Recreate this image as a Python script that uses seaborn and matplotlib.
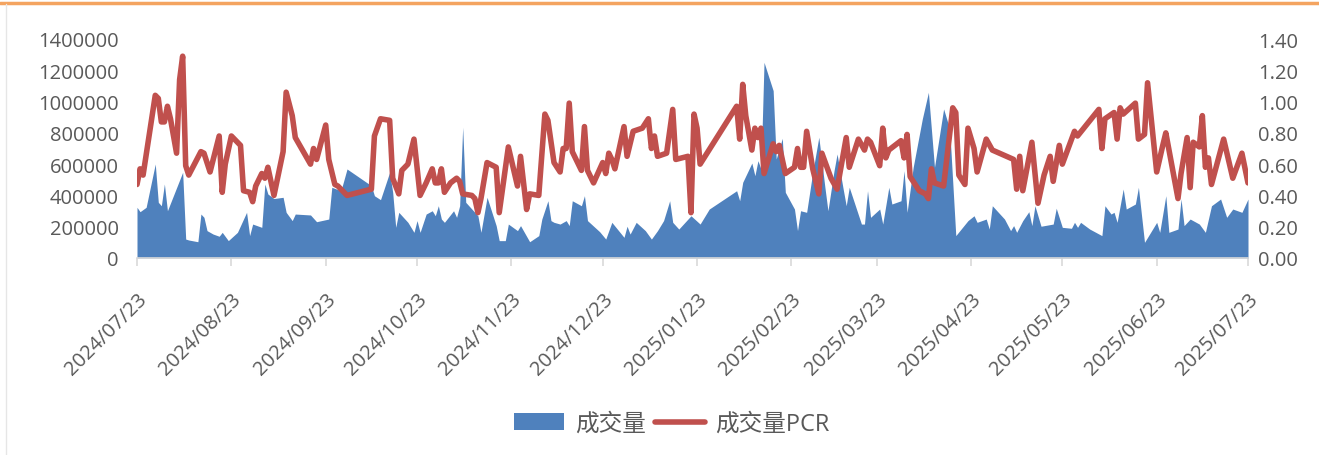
import pandas as pd
import matplotlib.pyplot as plt
import matplotlib.dates as mdates
from matplotlib.ticker import StrMethodFormatter
from matplotlib.patches import Patch
from matplotlib.lines import Line2D
import seaborn as sns

# 成交量 (area, left axis)
vol_dates = [
    "2024-07-23", "2024-07-24", "2024-07-26", "2024-07-29", "2024-07-30", "2024-07-31", "2024-08-01",
    "2024-08-02", "2024-08-07", "2024-08-08", "2024-08-09", "2024-08-12", "2024-08-13", "2024-08-14",
    "2024-08-15", "2024-08-17", "2024-08-19", "2024-08-20", "2024-08-22", "2024-08-25", "2024-08-28",
    "2024-08-29", "2024-08-30", "2024-09-02", "2024-09-03", "2024-09-04", "2024-09-06", "2024-09-09",
    "2024-09-10", "2024-09-12", "2024-09-13", "2024-09-18", "2024-09-20", "2024-09-24", "2024-09-25",
    "2024-09-28", "2024-09-30", "2024-10-08", "2024-10-09", "2024-10-11", "2024-10-14", "2024-10-15",
    "2024-10-16", "2024-10-17", "2024-10-20", "2024-10-22", "2024-10-23", "2024-10-24", "2024-10-26",
    "2024-10-28", "2024-10-29", "2024-10-30", "2024-10-31", "2024-11-01", "2024-11-04", "2024-11-05",
    "2024-11-06", "2024-11-07", "2024-11-08", "2024-11-10", "2024-11-12", "2024-11-13", "2024-11-15",
    "2024-11-18", "2024-11-19", "2024-11-21", "2024-11-22", "2024-11-25", "2024-11-26", "2024-11-29",
    "2024-12-02", "2024-12-03", "2024-12-05", "2024-12-06", "2024-12-07", "2024-12-09", "2024-12-11",
    "2024-12-12", "2024-12-13", "2024-12-16", "2024-12-17", "2024-12-18", "2024-12-22", "2024-12-24",
    "2024-12-26", "2024-12-30", "2024-12-31", "2025-01-01", "2025-01-03", "2025-01-06", "2025-01-08",
    "2025-01-10", "2025-01-12", "2025-01-14", "2025-01-15", "2025-01-17", "2025-01-21", "2025-01-24",
    "2025-01-27", "2025-02-05", "2025-02-06", "2025-02-07", "2025-02-10", "2025-02-11", "2025-02-12",
    "2025-02-13", "2025-02-14", "2025-02-17", "2025-02-18", "2025-02-20", "2025-02-21", "2025-02-24",
    "2025-02-25", "2025-02-26", "2025-02-28", "2025-03-02", "2025-03-04", "2025-03-06", "2025-03-07",
    "2025-03-09", "2025-03-10", "2025-03-12", "2025-03-13", "2025-03-14", "2025-03-18", "2025-03-19",
    "2025-03-20", "2025-03-21", "2025-03-24", "2025-03-25", "2025-03-27", "2025-03-28", "2025-03-31",
    "2025-04-01", "2025-04-02", "2025-04-04", "2025-04-07", "2025-04-09", "2025-04-11", "2025-04-14",
    "2025-04-16", "2025-04-18", "2025-04-22", "2025-04-24", "2025-04-25", "2025-04-28", "2025-04-29",
    "2025-04-30", "2025-05-04", "2025-05-06", "2025-05-07", "2025-05-08", "2025-05-10", "2025-05-12",
    "2025-05-13", "2025-05-14", "2025-05-16", "2025-05-20", "2025-05-21", "2025-05-23", "2025-05-26",
    "2025-05-27", "2025-05-28", "2025-05-29", "2025-06-01", "2025-06-05", "2025-06-06", "2025-06-08",
    "2025-06-09", "2025-06-10", "2025-06-12", "2025-06-13", "2025-06-16", "2025-06-17", "2025-06-19",
    "2025-06-21", "2025-06-23", "2025-06-24", "2025-06-26", "2025-06-27", "2025-06-30", "2025-07-01",
    "2025-07-02", "2025-07-04", "2025-07-07", "2025-07-09", "2025-07-11", "2025-07-14", "2025-07-16",
    "2025-07-18", "2025-07-21", "2025-07-23",
]
volume = [
    324000, 296000, 324000, 601000, 356000, 334000, 473000,
    302000, 548000, 121000, 115000, 104000, 281000, 260000,
    175000, 153000, 139000, 164000, 111000, 164000, 292000,
    143000, 217000, 196000, 473000, 409000, 380000, 388000,
    292000, 239000, 281000, 275000, 232000, 249000, 452000,
    430000, 569000, 462000, 398000, 373000, 548000, 420000,
    196000, 292000, 228000, 164000, 239000, 164000, 281000,
    302000, 270000, 334000, 249000, 228000, 302000, 260000,
    334000, 836000, 356000, 313000, 270000, 164000, 388000,
    207000, 111000, 111000, 217000, 175000, 207000, 104000,
    143000, 249000, 366000, 239000, 228000, 217000, 239000,
    207000, 366000, 334000, 398000, 239000, 168000, 121000,
    228000, 132000, 203000, 153000, 228000, 175000, 121000,
    175000, 239000, 366000, 228000, 185000, 270000, 217000,
    313000, 430000, 366000, 484000, 607000, 526000, 622000,
    569000, 1251000, 1070000, 633000, 765000, 420000, 313000,
    175000, 302000, 292000, 548000, 772000, 452000, 302000,
    558000, 665000, 441000, 334000, 452000, 217000, 217000,
    430000, 260000, 313000, 217000, 452000, 345000, 366000,
    558000, 292000, 580000, 889000, 1059000, 580000, 953000,
    825000, 143000, 239000, 270000, 228000, 249000, 185000,
    334000, 249000, 175000, 207000, 164000, 239000, 296000,
    207000, 334000, 203000, 217000, 318000, 196000, 190000,
    228000, 196000, 228000, 185000, 143000, 334000, 281000,
    292000, 228000, 441000, 313000, 345000, 452000, 100000,
    164000, 228000, 164000, 398000, 164000, 185000, 377000,
    207000, 249000, 217000, 164000, 334000, 377000, 260000,
    313000, 292000, 377000,
]

# 成交量PCR (line, right axis)
pcr_dates = [
    "2024-07-23", "2024-07-24", "2024-07-25", "2024-07-29", "2024-07-30", "2024-07-31", "2024-08-01",
    "2024-08-02", "2024-08-03", "2024-08-05", "2024-08-06", "2024-08-07", "2024-08-08", "2024-08-09",
    "2024-08-13", "2024-08-14", "2024-08-16", "2024-08-19", "2024-08-20", "2024-08-21", "2024-08-23",
    "2024-08-26", "2024-08-27", "2024-08-29", "2024-08-30", "2024-08-31", "2024-09-02", "2024-09-03",
    "2024-09-04", "2024-09-06", "2024-09-09", "2024-09-10", "2024-09-12", "2024-09-13", "2024-09-18",
    "2024-09-19", "2024-09-20", "2024-09-23", "2024-09-24", "2024-09-26", "2024-09-27", "2024-09-30",
    "2024-10-08", "2024-10-09", "2024-10-11", "2024-10-14", "2024-10-15", "2024-10-17", "2024-10-18",
    "2024-10-20", "2024-10-22", "2024-10-24", "2024-10-26", "2024-10-28", "2024-10-29", "2024-10-30",
    "2024-10-31", "2024-11-01", "2024-11-03", "2024-11-05", "2024-11-06", "2024-11-07", "2024-11-10",
    "2024-11-11", "2024-11-12", "2024-11-13", "2024-11-15", "2024-11-18", "2024-11-19", "2024-11-22",
    "2024-11-25", "2024-11-26", "2024-11-28", "2024-11-29", "2024-12-02", "2024-12-04", "2024-12-05",
    "2024-12-07", "2024-12-09", "2024-12-10", "2024-12-11", "2024-12-12", "2024-12-13", "2024-12-16",
    "2024-12-17", "2024-12-18", "2024-12-20", "2024-12-23", "2024-12-24", "2024-12-25", "2024-12-26",
    "2024-12-27", "2024-12-30", "2024-12-31", "2025-01-02", "2025-01-05", "2025-01-07", "2025-01-08",
    "2025-01-09", "2025-01-10", "2025-01-13", "2025-01-15", "2025-01-16", "2025-01-20", "2025-01-21",
    "2025-01-22", "2025-01-23", "2025-01-24", "2025-02-05", "2025-02-06", "2025-02-07", "2025-02-08",
    "2025-02-10", "2025-02-11", "2025-02-12", "2025-02-13", "2025-02-14", "2025-02-17", "2025-02-18",
    "2025-02-19", "2025-02-21", "2025-02-24", "2025-02-25", "2025-02-26", "2025-02-27", "2025-02-28",
    "2025-03-02", "2025-03-04", "2025-03-05", "2025-03-08", "2025-03-10", "2025-03-13", "2025-03-14",
    "2025-03-17", "2025-03-19", "2025-03-20", "2025-03-21", "2025-03-24", "2025-03-25", "2025-03-26",
    "2025-03-27", "2025-03-31", "2025-04-01", "2025-04-02", "2025-04-03", "2025-04-06", "2025-04-08",
    "2025-04-09", "2025-04-10", "2025-04-11", "2025-04-14", "2025-04-17", "2025-04-18", "2025-04-19",
    "2025-04-21", "2025-04-22", "2025-04-24", "2025-04-25", "2025-04-28", "2025-04-30", "2025-05-07",
    "2025-05-08", "2025-05-09", "2025-05-10", "2025-05-13", "2025-05-15", "2025-05-17", "2025-05-19",
    "2025-05-20", "2025-05-22", "2025-05-23", "2025-05-27", "2025-05-28", "2025-06-04", "2025-06-05",
    "2025-06-06", "2025-06-09", "2025-06-10", "2025-06-11", "2025-06-12", "2025-06-16", "2025-06-17",
    "2025-06-19", "2025-06-20", "2025-06-23", "2025-06-25", "2025-06-26", "2025-06-28", "2025-06-30",
    "2025-07-01", "2025-07-03", "2025-07-04", "2025-07-05", "2025-07-07", "2025-07-08", "2025-07-09",
    "2025-07-10", "2025-07-11", "2025-07-15", "2025-07-18", "2025-07-21", "2025-07-23",
]
pcr = [
    0.47, 0.57, 0.53, 1.04, 1.02, 0.87, 0.87,
    0.97, 0.89, 0.67, 1.14, 1.29, 0.59, 0.53,
    0.68, 0.67, 0.55, 0.78, 0.42, 0.60, 0.78,
    0.72, 0.43, 0.42, 0.36, 0.46, 0.54, 0.51,
    0.58, 0.40, 0.68, 1.06, 0.91, 0.77, 0.60,
    0.70, 0.63, 0.85, 0.63, 0.47, 0.46, 0.40,
    0.44, 0.78, 0.89, 0.88, 0.51, 0.41, 0.56,
    0.60, 0.76, 0.40, 0.48, 0.57, 0.48, 0.48,
    0.57, 0.42, 0.48, 0.51, 0.49, 0.41, 0.40,
    0.38, 0.29, 0.38, 0.61, 0.58, 0.29, 0.71,
    0.46, 0.65, 0.31, 0.41, 0.40, 0.92, 0.88,
    0.61, 0.55, 0.70, 0.70, 0.99, 0.68, 0.56,
    0.84, 0.56, 0.48, 0.61, 0.54, 0.67, 0.63,
    0.57, 0.84, 0.65, 0.81, 0.83, 0.89, 0.70,
    0.78, 0.65, 0.67, 0.95, 0.63, 0.65, 0.29,
    0.92, 0.83, 0.60, 0.97, 0.76, 1.11, 0.91,
    0.69, 0.83, 0.77, 0.83, 0.54, 0.73, 0.68,
    0.72, 0.54, 0.58, 0.70, 0.58, 0.58, 0.81,
    0.57, 0.41, 0.67, 0.51, 0.44, 0.77, 0.58,
    0.76, 0.69, 0.76, 0.74, 0.59, 0.83, 0.64,
    0.69, 0.75, 0.64, 0.79, 0.52, 0.43, 0.41,
    0.38, 0.57, 0.48, 0.46, 0.96, 0.93, 0.53,
    0.47, 0.83, 0.70, 0.55, 0.76, 0.69, 0.63,
    0.44, 0.65, 0.43, 0.74, 0.35, 0.53, 0.65,
    0.49, 0.72, 0.60, 0.81, 0.78, 0.95, 0.70,
    0.89, 0.93, 0.76, 0.96, 0.92, 0.99, 0.76,
    0.79, 1.12, 0.55, 0.72, 0.80, 0.59, 0.38,
    0.54, 0.77, 0.45, 0.74, 0.71, 0.91, 0.58,
    0.64, 0.47, 0.76, 0.51, 0.67, 0.48,
]

BLUE = "#4F81BD"
RED = "#C0504D"
GREY_TXT = "#595959"

sns.set_theme(style="white")
plt.rcParams['font.family'] = ['Open Sans', 'Noto Sans CJK SC', 'DejaVu Sans']

vol_df = pd.DataFrame({"date": pd.to_datetime(vol_dates), "volume": volume})
pcr_df = pd.DataFrame({"date": pd.to_datetime(pcr_dates), "pcr": pcr})

fig = plt.figure(figsize=(13.19, 4.56), dpi=100)
ax = fig.add_axes([137 / 1319, 1 - 259 / 456, (1248 - 137) / 1319, (259 - 40) / 456])
ax2 = ax.twinx()

ax.fill_between(vol_df["date"], vol_df["volume"], 0, color=BLUE, linewidth=0)
sns.lineplot(data=pcr_df, x="date", y="pcr", ax=ax2, color=RED, linewidth=4)

start, end = pd.Timestamp("2024-07-23"), pd.Timestamp("2025-07-23")
ticks = pd.date_range(start, end, freq=pd.DateOffset(months=1))
ax.set_xlim(start, end)
ax.set_xticks(ticks)
ax.xaxis.set_major_formatter(mdates.DateFormatter('%Y/%m/%d'))
ax.set_ylim(0, 1400000)
ax.set_yticks(range(0, 1400001, 200000))
ax.yaxis.set_major_formatter(StrMethodFormatter('{x:.0f}'))
ax2.set_ylim(0, 1.4)
ax2.set_yticks([i * 0.2 for i in range(8)])
ax2.yaxis.set_major_formatter(StrMethodFormatter('{x:.2f}'))

ax.set_xlabel("")
ax.set_ylabel("")
ax2.set_xlabel("")
ax2.set_ylabel("")

for a in (ax, ax2):
    for s in a.spines.values():
        s.set_visible(False)
ax.spines['bottom'].set_visible(True)
ax.spines['bottom'].set_color("#D9D9D9")
ax.spines['bottom'].set_linewidth(1.2)

ax.tick_params(axis='y', length=0, pad=13, labelsize=14.5, labelcolor=GREY_TXT)
ax2.tick_params(axis='y', length=0, pad=7, labelsize=14.5, labelcolor=GREY_TXT)
ax.tick_params(axis='x', length=6, width=1.2, color="#D9D9D9", pad=16,
               labelsize=14.5, labelcolor=GREY_TXT, bottom=True)
for lab in ax.get_xticklabels():
    lab.set_rotation(45)
    lab.set_ha('right')
    lab.set_va('top')
    lab.set_rotation_mode('anchor')

handles = [Patch(facecolor=BLUE, edgecolor='none', label="成交量"),
           Line2D([0], [0], color=RED, linewidth=4, label="成交量PCR")]
fig.legend(handles=handles, loc='center', bbox_to_anchor=(672 / 1319, 1 - 425 / 456), ncol=2,
           frameon=False, fontsize=17, handlelength=2.1, handletextpad=0.45,
           columnspacing=0.4, labelcolor=GREY_TXT)

# orange rule at the top and a faint left border
fig.add_artist(Line2D([0, 1], [1 - 4 / 456, 1 - 4 / 456], transform=fig.transFigure,
                      color="#F4A460", linewidth=2.5))
fig.add_artist(Line2D([6 / 1319, 6 / 1319], [0, 1 - 5 / 456], transform=fig.transFigure,
                      color="#E6E6E6", linewidth=1))

fig.savefig("out.png", dpi=100)
